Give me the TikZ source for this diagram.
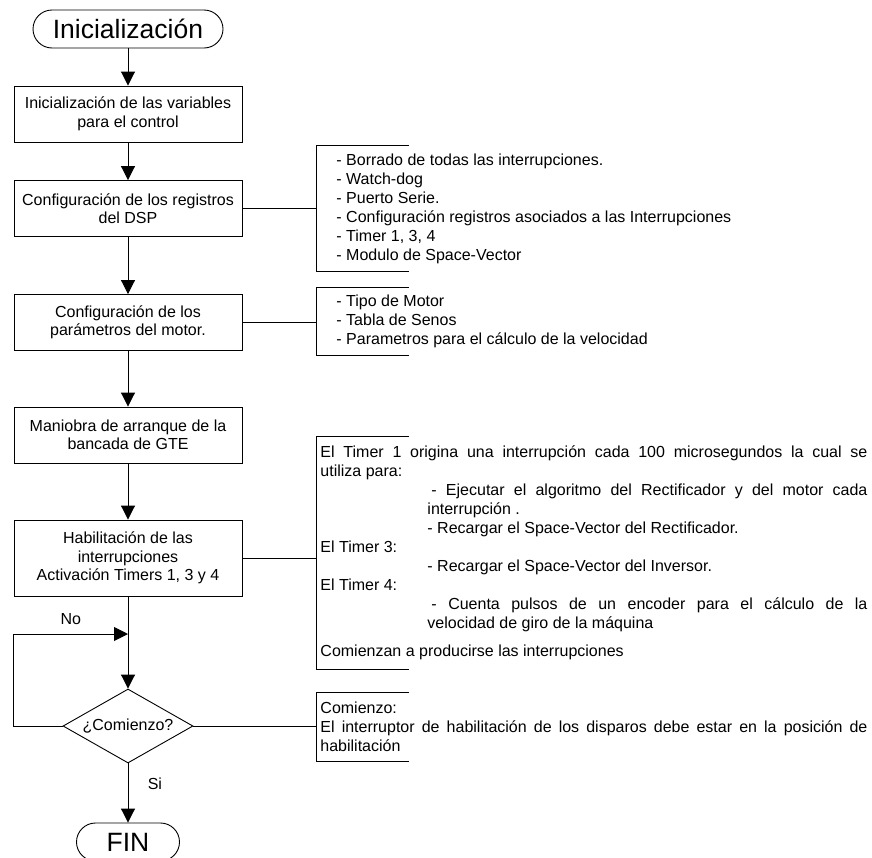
\documentclass[tikz,border=0pt]{standalone}
\usepackage{fontspec}
\setmainfont{Liberation Sans}
\usetikzlibrary{arrows.meta,shapes.geometric}

\begin{document}
\begin{tikzpicture}[x=1pt,y=-1pt,>={Triangle[length=14pt,width=14pt]},line width=0.9pt,
    font=\fontsize{16}{18.5}\selectfont,
    proc/.style={draw,rectangle,minimum width=228pt,minimum height=56pt,align=center,inner sep=2pt},
    term/.style={draw,rectangle,rounded corners=19pt,minimum height=38pt,inner sep=0pt,
      font=\fontsize{26.5}{30}\selectfont},
    decision/.style={draw,diamond,aspect=1.76,minimum width=130pt,minimum height=74pt,inner sep=0pt},
    note/.style={anchor=west,align=left,inner ysep=0pt,font=\fontsize{16}{19}\selectfont}]
  \useasboundingbox (0,0) rectangle (872,857);

  % main flow
  \node[term,minimum width=190pt] (start) at (128,29) {Inicialización};
  \node[proc] (b1) at (128,114) {Inicialización de las variables\\para el control};
  \node[proc] (b2) at (128,208.5) {Configuración de los registros\\del DSP};
  \node[proc] (b3) at (128,322.5) {Configuración de los\\parámetros del motor.};
  \node[proc] (b4) at (128,435) {Maniobra de arranque de la\\bancada de GTE};
  \node[proc,minimum height=76pt] (b5) at (128,558) {Habilitación de las\\interrupciones\\Activación Timers 1, 3 y 4};
  \node[decision] (ask) at (128,726) {¿Comienzo?};
  \node[term,minimum width=103pt] (fin) at (128,842) {FIN};
  \coordinate (merge) at (128,634);

  \draw[->] (start) -- (b1);
  \draw[->] (b1) -- (b2);
  \draw[->] (b2) -- (b3);
  \draw[->] (b3) -- (b4);
  \draw[->] (b4) -- (b5);
  \draw[->] (b5) -- (ask);
  \draw[->] (ask) -- node[pos=0.35,right=16pt]{Si} (fin);
  \draw[->] (ask.west) -- (ask.west -| b1.west) |- node[pos=0.75,above=6pt]{No} (merge);

  % side notes
  \node[note,minimum height=125pt,inner xsep=20pt] (n1) at (316,208.5) {%
    - Borrado de todas las interrupciones.\\
    - Watch-dog\\
    - Puerto Serie.\\
    - Configuración registros asociados a las Interrupciones\\
    - Timer 1, 3, 4\\
    - Modulo de Space-Vector};
  \node[note,minimum height=67pt,inner xsep=20pt] (n2) at (316,321.5) {%
    - Tipo de Motor\\
    - Tabla de Senos\\
    - Parametros para el cálculo de la velocidad};
  \node[note,minimum height=232pt,inner xsep=4pt] (n3) at (316,553) {%
    \makebox[547pt][s]{El Timer 1 origina una interrupción cada 100 microsegundos la cual se}\\
    utiliza para:\\
    \hspace*{111pt}\makebox[436pt][s]{- Ejecutar el algoritmo del Rectificador y del motor cada}\\
    \hspace*{107pt}interrupción .\\
    \hspace*{107pt}- Recargar el Space-Vector del Rectificador.\\
    El Timer 3:\\
    \hspace*{107pt}- Recargar el Space-Vector del Inversor.\\
    El Timer 4:\\
    \hspace*{111pt}\makebox[436pt][s]{- Cuenta pulsos de un encoder para el cálculo de la}\\
    \hspace*{107pt}velocidad de giro de la máquina\\[9pt]
    Comienzan a producirse las interrupciones};
  \node[note,minimum height=68pt,inner xsep=4pt] (n4) at (316,727) {%
    Comienzo:\\
    \makebox[547pt][s]{El interruptor de habilitación de los disparos debe estar en la posición de}\\
    habilitación};

  \foreach \n in {n1,n2,n3,n4}
    \draw ([xshift=93pt]\n.north west) -- (\n.north west) -- (\n.south west) -- ([xshift=93pt]\n.south west);

  \draw (b2.east) -- (b2.east -| n1.west);
  \draw (b3.east) -- (b3.east -| n2.west);
  \draw (b5.east) -- (b5.east -| n3.west);
  \draw (ask.east) -- (ask.east -| n4.west);
\end{tikzpicture}
\end{document}
